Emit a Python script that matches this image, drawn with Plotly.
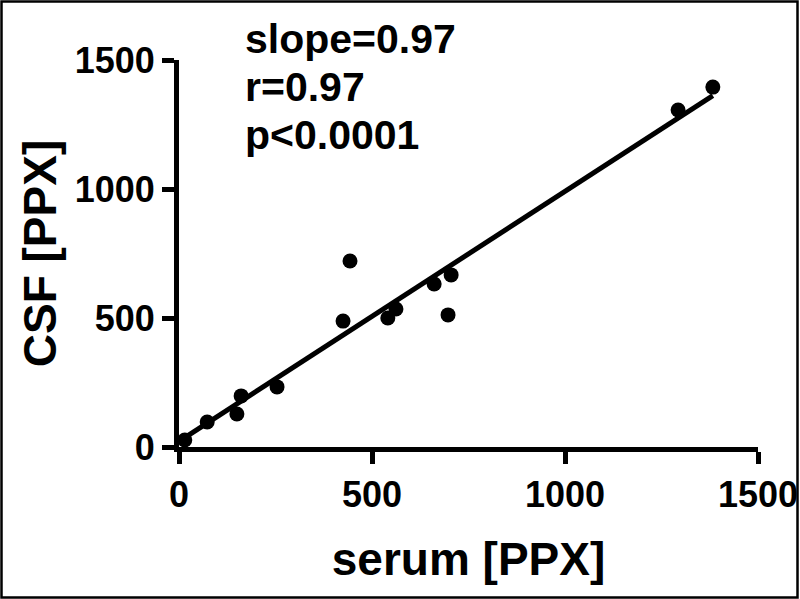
import numpy as np
import plotly.graph_objects as go

serum = [15, 73, 150, 161, 254, 425, 443, 541, 562, 661, 705, 697, 1293, 1383]
csf = [27, 97, 128, 198, 233, 488, 721, 500, 535, 632, 667, 512, 1306, 1395]
tick_vals = [0, 500, 1000, 1500]
stats_text = ['slope=0.97', 'r=0.97', 'p<0.0001']

# linear fit over the data range
slope, intercept = np.polyfit(serum, csf, 1)
fit_x = np.array([min(serum), max(serum)])
fit_y = slope * fit_x + intercept

font_family = 'Liberation Sans, Arial, sans-serif'

fig = go.Figure()
fig.add_scatter(x=fit_x, y=fit_y, mode='lines', line=dict(color='black', width=5),
                showlegend=False)
fig.add_scatter(x=serum, y=csf, mode='markers', marker=dict(color='black', size=15),
                showlegend=False, cliponaxis=False)

axis_style = dict(
    range=[0, 1500], tickvals=tick_vals, showgrid=False, zeroline=False,
    showline=True, linecolor='black', linewidth=5, automargin=False,
    ticks='outside', ticklen=12, tickwidth=5, tickcolor='black',
    tickfont=dict(family=font_family, size=36, color='black', weight='bold'),
)

fig.update_xaxes(**axis_style, title=dict(text='serum [PPX]', standoff=30,
                 font=dict(family=font_family, size=46, color='black', weight='bold')))
fig.update_yaxes(**axis_style, title=dict(text='CSF [PPX]', standoff=5,
                 font=dict(family=font_family, size=46, color='black', weight='bold')))

# stats block, one annotation per line
plot_l, plot_t, plot_w, plot_h = 179, 60, 579, 387
for i, txt in enumerate(stats_text):
    baseline = 64 + 48 * i
    fig.add_annotation(text=txt, xref='paper', yref='paper',
                       x=(243 - plot_l) / plot_w, y=(plot_t + plot_h - baseline) / plot_h,
                       xanchor='left', yanchor='bottom', showarrow=False,
                       font=dict(family=font_family, size=41, color='black', weight='bold'))

# thin frame around the whole picture
fig.add_shape(type='rect', xref='paper', yref='paper',
              x0=(1.5 - plot_l) / plot_w, x1=(797.5 - plot_l) / plot_w,
              y0=(plot_t + plot_h - 597.5) / plot_h, y1=(plot_t + plot_h - 1.5) / plot_h,
              line=dict(color='black', width=2.5))

fig.update_layout(
    width=800, height=599,
    margin=dict(l=plot_l, r=800 - plot_l - plot_w, t=plot_t, b=599 - plot_t - plot_h),
    plot_bgcolor='white', paper_bgcolor='white',
)

fig.write_html('out.html', config={'displayModeBar': False},
               post_script="document.body.style.margin='0';")
